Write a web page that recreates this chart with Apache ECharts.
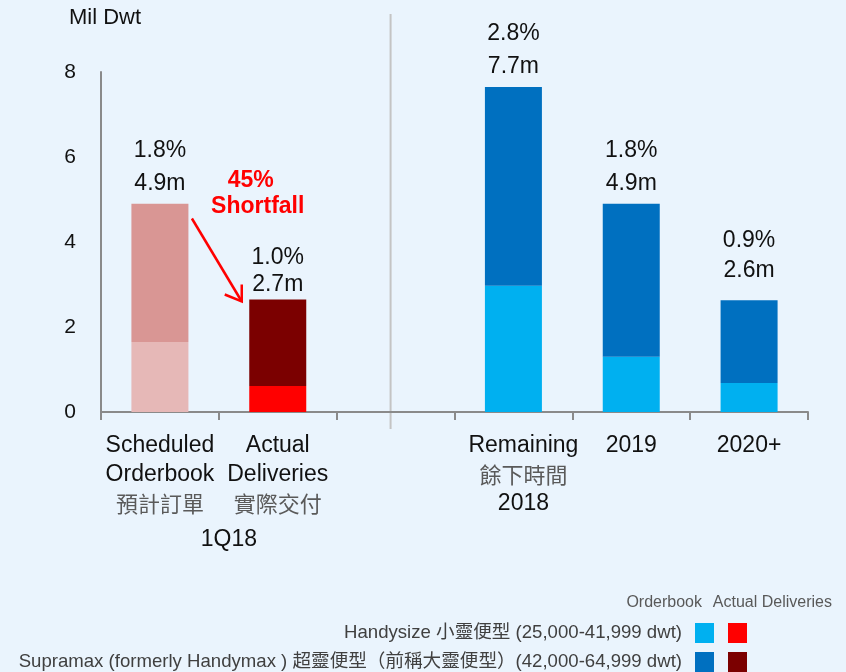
<!DOCTYPE html>
<html>
<head>
<meta charset="utf-8">
<script src="https://cdn.jsdelivr.net/npm/echarts@6/dist/echarts.min.js"></script>
<style>
  html, body { margin: 0; padding: 0; background: #eaf4fd; }
  #main { width: 846px; height: 672px; }
</style>
</head>
<body>
<div id="main"></div>
<script>
// category axis (index 2 is the empty gap between the two groups)
var labelEn = ['Scheduled\nOrderbook', 'Actual\nDeliveries', '', 'Remaining', '2019', '2020+'];
var labelZh = ['預計訂單', '實際交付', '', '餘下時間', '', ''];
var labelYear = ['', '', '', '2018', '', ''];

// Mil Dwt, stacked
var handySched = [1.65, '-', '-', '-', '-', '-'];
var supraSched = [3.25, '-', '-', '-', '-', '-'];
var handyActual = ['-', 0.61, '-', '-', '-', '-'];
var supraActual = ['-', 2.04, '-', '-', '-', '-'];
var handyOrder = ['-', '-', '-', 2.97, 1.30, 0.68];
var supraOrder = ['-', '-', '-', 4.68, 3.60, 1.95];

// labels above the bars
var totalText = ['4.9m', '2.7m', '', '7.7m', '4.9m', '2.6m'];
var pctText = ['1.8%', '1.0%', '', '2.8%', '1.8%', '0.9%'];

var handyName = 'Handysize 小靈便型 (25,000-41,999 dwt)';
var supraName = 'Supramax (formerly Handymax ) 超靈便型（前稱大靈便型）(42,000-64,999 dwt)';

var FONT = '"Liberation Sans", Arial, "Noto Sans CJK TC", sans-serif';
var CJK = '"Noto Sans CJK TC", sans-serif';

var dom = document.getElementById('main');
var chart = echarts.init(dom, null, { renderer: 'canvas' });

function barSeries(name, data, color) {
    return {
        name: name,
        type: 'bar',
        stack: 'total',
        barWidth: 57,
        data: data,
        itemStyle: { color: color },
        emphasis: { disabled: true }
    };
}

// label spacing differs a little from bar to bar in the original
var topLabelStyle = {
    1: { distance: 1.5, lineHeight: 27 },
    5: { distance: 15, lineHeight: 30 }
};
var topLabels = labelEn.map(function(v, i) {
    if (!totalText[i]) return '-';
    return topLabelStyle[i] ? { value: 0, label: topLabelStyle[i] } : 0;
});

// the "Remaining" block sits a little right of its bar
var xData = labelEn.map(function(v, i) {
    return i === 3 ? { value: v, textStyle: { padding: [0, 0, 0, 20] } } : v;
});

var option = {
    backgroundColor: '#eaf4fd',
    animation: false,
    textStyle: { fontFamily: FONT },
    grid: { left: 101, right: 38, top: 72, bottom: 260 },
    legend: [{
        data: [handyName, supraName],
        orient: 'vertical',
        right: 132,
        top: 623,
        height: 80,
        padding: 0,
        align: 'right',
        itemWidth: 19,
        itemHeight: 20,
        itemGap: 9,
        icon: 'rect',
        selectedMode: false,
        textStyle: { fontSize: 18.6, color: '#404040', fontFamily: FONT, padding: [0, 8, 0, 0] }
    }, {
        data: ['Handysize Actual', 'Supramax Actual'],
        orient: 'vertical',
        right: 99,
        top: 623,
        height: 80,
        padding: 0,
        align: 'left',
        itemWidth: 19,
        itemHeight: 20,
        itemGap: 9,
        icon: 'rect',
        selectedMode: false,
        formatter: function() { return ''; }
    }],
    xAxis: {
        type: 'category',
        data: xData,
        axisLine: { lineStyle: { color: '#8a8a8a', width: 2 } },
        axisTick: { show: true, length: 8, lineStyle: { color: '#8a8a8a', width: 2 } },
        axisLabel: {
            interval: 0,
            margin: 19,
            formatter: function(value, idx) {
                var parts = [];
                if (value) {
                    value.split('\n').forEach(function(s) { parts.push('{en|' + s + '}'); });
                }
                if (labelZh[idx]) parts.push('{zh|' + labelZh[idx] + '}');
                if (labelYear[idx]) parts.push('{en|' + labelYear[idx] + '}');
                return parts.join('\n');
            },
            rich: {
                en: { fontSize: 23, color: '#111', fontFamily: FONT, lineHeight: 29 },
                zh: { fontSize: 22, color: '#5a5a5a', fontFamily: CJK, lineHeight: 29 }
            }
        }
    },
    yAxis: {
        type: 'value',
        min: 0,
        max: 8,
        interval: 2,
        name: 'Mil Dwt',
        nameLocation: 'end',
        nameGap: 43,
        nameTextStyle: { fontSize: 22, color: '#111', align: 'center', padding: [0, 0, 0, 8] },
        splitLine: { show: false },
        axisTick: { show: false },
        axisLine: { show: true, lineStyle: { color: '#8a8a8a', width: 2 } },
        axisLabel: { fontSize: 21, color: '#111', margin: 25 }
    },
    series: [
        barSeries('Scheduled Handysize', handySched, '#e6b8b7'),
        barSeries('Scheduled Supramax', supraSched, '#d99694'),
        barSeries('Handysize Actual', handyActual, '#ff0000'),
        barSeries('Supramax Actual', supraActual, '#7b0000'),
        barSeries(handyName, handyOrder, '#00b0f0'),
        barSeries(supraName, supraOrder, '#0070c0'),
        {
            name: 'totals',
            type: 'bar',
            stack: 'total',
            barWidth: 57,
            data: topLabels,
            itemStyle: { color: 'transparent' },
            label: {
                show: true,
                position: 'top',
                distance: 4,
                formatter: function(p) {
                    return pctText[p.dataIndex] + '\n' + totalText[p.dataIndex];
                },
                fontSize: 23,
                lineHeight: 33,
                color: '#111',
                fontFamily: FONT
            }
        }
    ]
};
chart.setOption(option);

// annotations placed relative to the axes
var p0 = chart.convertToPixel({ gridIndex: 0 }, [0, 4.6]);
var p1 = chart.convertToPixel({ gridIndex: 0 }, [1, 2.6]);
var pGap = chart.convertToPixel({ gridIndex: 0 }, [2, 0]);
var pMid = chart.convertToPixel({ gridIndex: 0 }, [0, 0]);
var pMid2 = chart.convertToPixel({ gridIndex: 0 }, [1, 0]);
var sx = p0[0] + 32, sy = p0[1] + 2;
var tx = p1[0] - 36, ty = p1[1] + 0;

chart.setOption({
    graphic: [
        {
            type: 'line',
            shape: { x1: pGap[0] - 5, y1: 14, x2: pGap[0] - 5, y2: pGap[1] + 17 },
            style: { stroke: '#c4c4c4', lineWidth: 2 }
        },
        {
            type: 'line',
            shape: { x1: sx, y1: sy, x2: tx, y2: ty },
            style: { stroke: '#ff0000', lineWidth: 2.5 }
        },
        {
            type: 'polyline',
            shape: { points: [[tx - 17, ty - 7], [tx, ty], [tx, ty - 17]] },
            style: { stroke: '#ff0000', lineWidth: 2.5, fill: null }
        },
        {
            type: 'text',
            x: p1[0] - 27,
            y: 181,
            style: {
                text: '45%',
                fill: '#ff0000',
                font: 'bold 23px "Liberation Sans", Arial, sans-serif',
                align: 'center',
                verticalAlign: 'middle'
            }
        },
        {
            type: 'text',
            x: p1[0] - 20,
            y: 207,
            style: {
                text: 'Shortfall',
                fill: '#ff0000',
                font: 'bold 23px "Liberation Sans", Arial, sans-serif',
                align: 'center',
                verticalAlign: 'middle'
            }
        },
        {
            type: 'text',
            x: (pMid[0] + pMid2[0]) / 2 + 10,
            y: 540,
            style: {
                text: '1Q18',
                fill: '#111',
                font: '23px "Liberation Sans", Arial, sans-serif',
                align: 'center',
                verticalAlign: 'middle'
            }
        },
        {
            type: 'text',
            right: 144,
            top: 595,
            style: {
                text: 'Orderbook',
                fill: '#595959',
                font: '16px "Liberation Sans", Arial, sans-serif'
            }
        },
        {
            type: 'text',
            right: 14,
            top: 595,
            style: {
                text: 'Actual Deliveries',
                fill: '#595959',
                font: '16px "Liberation Sans", Arial, sans-serif'
            }
        }
    ]
});
</script>
</body>
</html>
